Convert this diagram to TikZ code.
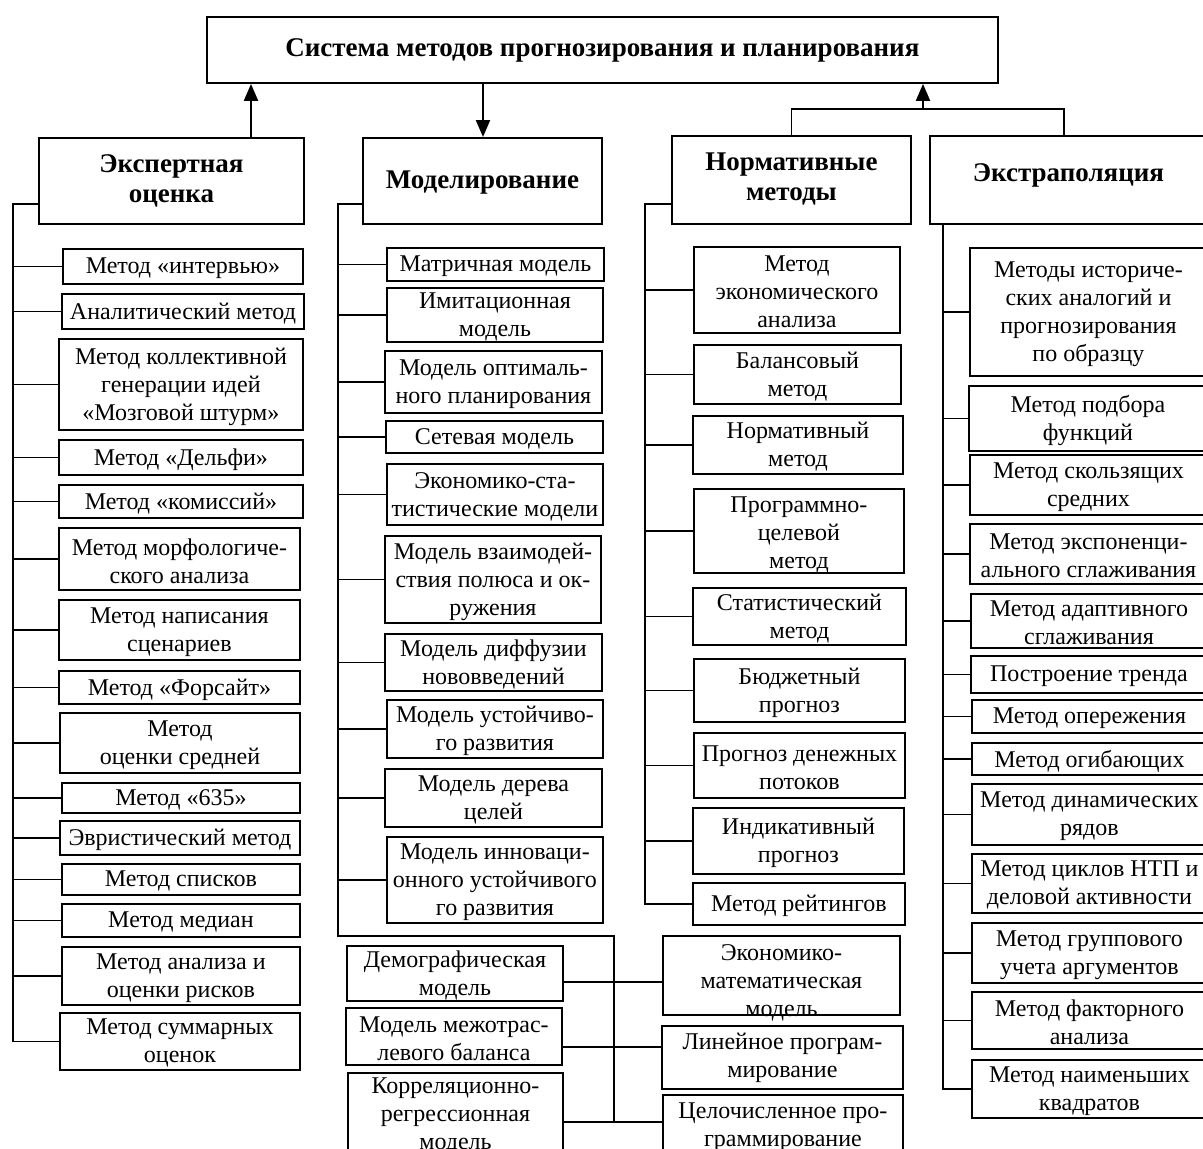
\documentclass[tikz,border=0pt]{standalone}
\usepackage{fontspec}
\setmainfont{Liberation Serif}
\usetikzlibrary{arrows.meta}
\tikzset{
  box/.style={draw, rectangle, line width=1.9pt, inner sep=0pt, anchor=north west},
  txt/.style={font=\fontsize{24}{28}\selectfont, align=center, inner sep=0pt},
  head/.style={font=\fontsize{27}{30}\selectfont\bfseries, align=center, inner sep=0pt},
  conn/.style={line width=1.8pt},
  arr/.style={line width=2.2pt, -{Triangle[length=17pt,width=14pt]}},
}
% #1 text yshift, #2 x1, #3 y1, #4 x2, #5 y2, #6 text, #7 name
\newcommand\mybox[7][-2]{%
  \node[box, minimum width={#4-#2}, minimum height={#5-#3}] (#7) at (#2,#3) {};
  \node[txt, yshift=#1] (#7t) at (#7.center) {#6};
}
\begin{document}
\begin{tikzpicture}[x=1pt,y=-1pt]
\useasboundingbox[fill=white] (0,0) rectangle (1203,1149);

% top
\node[box, minimum width=791, minimum height=66] (T) at (206,16) {};
\node[head] (Tt) at (T.center) {Система методов прогнозирования и планирования};

% categories
\node[box, minimum width=265, minimum height=86] (E) at (38,137) {};
\node[head] (Et) at (E.center) {Экспертная\\оценка};
\node[box, minimum width=239, minimum height=86] (M) at (362,137) {};
\node[head, yshift=-2] (Mt) at (M.center) {Моделирование};
\node[box, minimum width=239, minimum height=88] (N) at (671,135) {};
\node[head, yshift=1] (Nt) at (N.center) {Нормативные\\методы};
\node[box, minimum width=277, minimum height=88] (X) at (929,135) {};
\node[head, yshift=5] (Xt) at (X.center) {Экстраполяция};

% arrows
\coordinate (a1) at (251,0);
\draw[arr] (E.north -| a1) -- (T.south -| a1);
\coordinate (a2) at (483,0);
\draw[arr] (T.south -| a2) -- (M.north -| a2);
\coordinate (bar) at (923,109);
\coordinate (xb) at (1064,0);
\draw[conn] (N.north) -- (N.north |- bar) -- (xb |- bar) -- (X.north -| xb);
\draw[arr] (bar) -- (T.south -| bar);

% expert column
\mybox{62}{248}{302}{283}{Метод «интервью»}{e1}
\mybox{61}{293}{303}{328}{Аналитический метод}{e2}
\mybox{58}{338}{302}{429}{Метод коллективной\\генерации идей\\«Мозговой штурм»}{e3}
\mybox{58}{439}{302}{474}{Метод «Дельфи»}{e4}
\mybox{58}{484}{302}{517}{Метод «комиссий»}{e5}
\mybox{58}{527}{299}{589}{Метод морфологиче-\\ского анализа}{e6}
\mybox{58}{599}{299}{659}{Метод написания\\сценариев}{e7}
\mybox{58}{670}{299}{703}{Метод «Форсайт»}{e8}
\mybox{59}{712}{299}{772}{Метод\\оценки средней}{e9}
\mybox{61}{782}{299}{812}{Метод «635»}{e10}
\mybox{59}{820}{299}{854}{Эвристический метод}{e11}
\mybox{61}{863}{299}{894}{Метод списков}{e12}
\mybox{61}{903}{299}{936}{Метод медиан}{e13}
\mybox{61}{946}{299}{1004}{Метод анализа и\\оценки рисков}{e14}
\mybox{59}{1012}{299}{1069}{Метод суммарных\\оценок}{e15}

\coordinate (ebus) at (13,204);
\draw[conn] (E.west |- ebus) -- (ebus) -- (ebus |- e15.west) -- (e15.west);
\foreach \i in {1,...,14} \draw[conn] (e\i.west) -- (e\i.west -| ebus);

% modelling column
\mybox{386}{247}{603}{280}{Матричная модель}{m1}
\mybox{386}{287}{602}{341}{Имитационная\\модель}{m2}
\mybox{384}{350}{601}{412}{Модель оптималь-\\ного планирования}{m3}
\mybox{385}{420}{602}{452}{Сетевая модель}{m4}
\mybox{386}{463}{602}{524}{Экономико-ста-\\тистические модели}{m5}
\mybox{384}{535}{600}{622}{Модель взаимодей-\\ствия полюса и ок-\\ружения}{m6}
\mybox{384}{633}{601}{690}{Модель диффузии\\нововведений}{m7}
\mybox{386}{699}{602}{757}{Модель устойчиво-\\го развития}{m8}
\mybox{384}{768}{601}{826}{Модель дерева\\целей}{m9}
\mybox{386}{836}{602}{922}{Модель инноваци-\\онного устойчивого\\го развития}{m10}

\mybox{346}{945}{562}{1000}{Демографическая\\модель}{d1}
\mybox{345}{1007}{561}{1064}{Модель межотрас-\\левого баланса}{d2}
\mybox[1]{347}{1072}{562}{1160}{Корреляционно-\\регрессионная\\модель}{d3}
\mybox[-7]{662}{935}{899}{1014}{Экономико-\\математическая\\модель}{r1}
\mybox[0]{661}{1025}{902}{1088}{Линейное програм-\\мирование}{r2}
\mybox[1]{662}{1094}{902}{1160}{Целочисленное про-\\граммирование}{r3}

\coordinate (mbus) at (338,204);
\coordinate (mc) at (614,936);
\coordinate (j1) at (614,982);
\coordinate (j2) at (614,1047);
\coordinate (j3) at (614,1122);
\draw[conn] (M.west |- mbus) -- (mbus) -- (mbus |- mc) -- (mc) -- (j3);
\foreach \i in {1,...,10} \draw[conn] (m\i.west) -- (m\i.west -| mbus);
\draw[conn] (d1.east |- j1) -- (r1.west |- j1);
\draw[conn] (d2.east |- j2) -- (r2.west |- j2);
\draw[conn] (d3.east |- j3) -- (r3.west |- j3);

% normative column
\mybox{693}{246}{899}{332}{Метод\\экономического\\анализа}{n1}
\mybox{693}{344}{900}{403}{Балансовый\\метод}{n2}
\mybox{692}{415}{902}{473}{Нормативный\\метод}{n3}
\mybox[-4]{693}{488}{903}{572}{Программно-\\целевой\\метод}{n4}
\mybox{692}{587}{905}{644}{Статистический\\метод}{n5}
\mybox{693}{658}{904}{721}{Бюджетный\\прогноз}{n6}
\mybox{693}{732}{904}{797}{Прогноз денежных\\потоков}{n7}
\mybox{692}{807}{903}{873}{Индикативный\\прогноз}{n8}
\mybox{692}{882}{904}{924}{Метод рейтингов}{n9}

\coordinate (nbus) at (645,204);
\draw[conn] (N.west |- nbus) -- (nbus) -- (nbus |- n9.west) -- (n9.west);
\foreach \i in {1,...,8} \draw[conn] (n\i.west) -- (n\i.west -| nbus);

% extrapolation column
\mybox{969}{247}{1206}{375}{Методы историче-\\ских аналогий и\\прогнозирования\\по образцу}{x1}
\mybox{968}{385}{1206}{450}{Метод подбора\\функций}{x2}
\mybox{969}{454}{1206}{514}{Метод скользящих\\средних}{x3}
\mybox{969}{523}{1206}{583}{Метод экспоненци-\\ального сглаживания}{x4}
\mybox{970}{593}{1206}{647}{Метод адаптивного\\сглаживания}{x5}
\mybox{970}{655}{1206}{692}{Построение тренда}{x6}
\mybox{971}{699}{1206}{732}{Метод опережения}{x7}
\mybox{971}{742}{1206}{774}{Метод огибающих}{x8}
\mybox{971}{783}{1206}{844}{Метод динамических\\рядов}{x9}
\mybox{971}{853}{1206}{912}{Метод циклов НТП и\\деловой активности}{x10}
\mybox{971}{922}{1206}{982}{Метод группового\\учета аргументов}{x11}
\mybox{971}{991}{1206}{1048}{Метод факторного\\анализа}{x12}
\mybox{971}{1059}{1206}{1117}{Метод наименьших\\квадратов}{x13}

\coordinate (xbus) at (943,0);
\draw[conn] (X.south -| xbus) -- (xbus |- x13.west) -- (x13.west);
\foreach \i in {1,...,12} \draw[conn] (x\i.west) -- (x\i.west -| xbus);
\end{tikzpicture}
\end{document}
